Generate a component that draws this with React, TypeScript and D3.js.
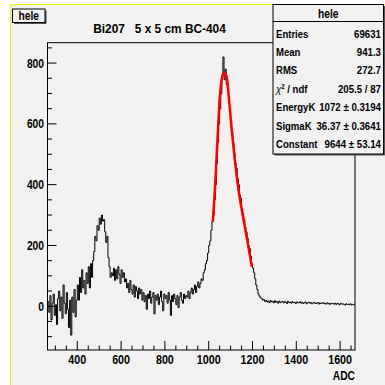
import React from 'react';
import * as d3 from 'd3';

const histName = 'hele';
const title = 'Bi207   5 x 5 cm BC-404';
const xTitle = 'ADC';
const binStart = 265;
const binWidth = 5;
const counts = [
  // 265-400
  15, -20, 35, -45, 10, 40, -30, 5, -60, 25, 50, -15, 30, -40, 70, 10, -25, 45, -10, -70, 20, -95, 30, -20, 55, -35, 20,
  // 400-470
  70, 20, 95, 45, 120, 60, 85, 40, 110, 75, 130, 60, 140, 95,
  // 470-500
  150, 180, 230, 215, 265, 250,
  // 500-530
  290, 270, 300, 280, 285, 245,
  // 530-560
  210, 230, 160, 130, 95, 110,
  // 560-620
  100, 125, 85, 120, 90, 130, 105, 75, 120, 95, 110, 80,
  // 620-700
  90, 60, 75, 45, 85, 55, 40, 70, 30, 65, 50, 25, 60, 40, 55, 20,
  // 700-900
  45, 15, 35, -10, 40, 25, 50, 10, 30, 45, -25, 35, 20, 40, 5, 30, 50, 15, -15, 40,
  25, 35, 10, 45, 20, -30, 35, 15, 40, 25, 5, 35, -5, 30, 45, 20, 10, 40, 25, 35,
  // 900-960
  30, 50, 25, 45, 60, 40, 55, 70, 45, 65, 80, 60,
  // 960-1020
  75, 90, 85, 110, 120, 140, 150, 175, 200, 215, 250, 280,
  // 1020-1070
  300, 350, 400, 470, 540, 600, 650, 700, 760, 820,
  // 1070-1120
  745, 780, 730, 720, 690, 650, 610, 575, 540, 505,
  // 1120-1200
  470, 455, 420, 400, 365, 355, 320, 305, 285, 260, 245, 225, 200, 190, 165, 140,
  // 1200-1270
  125, 110, 90, 70, 55, 40, 33, 28, 25, 20, 22, 16, 19, 14,
  // 1270-1670
  17, 12, 19, 14, 16, 11, 18, 13, 15, 10,
  17, 12, 14, 16, 11, 15, 13, 9, 16, 12,
  14, 10, 15, 12, 13, 9, 14, 11, 12, 15,
  10, 13, 9, 12, 14, 8, 11, 13, 10, 12,
  8, 11, 13, 9, 10, 12, 7, 11, 9, 10,
  12, 8, 10, 7, 11, 9, 6, 10, 8, 9,
  7, 10, 6, 9, 8, 5, 9, 7, 8, 6,
  4, 8, 6, 7, 5, 8, 4, 6, 5, 7,
];
const fitX = [1019, 1029, 1044, 1055, 1067, 1079, 1090, 1105, 1121, 1136, 1151, 1166, 1181, 1197];
const fitY = [278, 393, 602, 722, 766, 761, 701, 580, 470, 383, 317, 257, 196, 130];
const xTicks = [400, 600, 800, 1000, 1200, 1400, 1600];
const yTicks = [0, 200, 400, 600, 800];
const statLabels = ['Entries', 'Mean', 'RMS', 'chi', 'EnergyK', 'SigmaK', 'Constant'];
const statValues = ['69631', '941.3', '272.7', '205.5 / 87', '1072 \u00b1 0.3194', '36.37 \u00b1 0.3641', '9644 \u00b1 53.14'];

const FONT = '"Liberation Sans", Arial, sans-serif';
const SX = 0.82;

type TProps = { x: number; y: number; anchor?: string; size: number; bold?: boolean; sx?: number; children: React.ReactNode };
function Txt({ x, y, anchor = 'start', size, bold = true, sx = SX, children }: TProps) {
  return (
    <text transform={`translate(${x},${y}) scale(${sx},1)`} textAnchor={anchor} fontSize={size}
      fontWeight={bold ? 'bold' : 'normal'} fill="#000" style={{ whiteSpace: 'pre' }}>{children}</text>
  );
}

export default function App() {
  const W = 385, H = 385;
  const L = 47.5, R = 355, T = 42.7, B = 350;
  const x = d3.scaleLinear().domain([264, 1668]).range([L, R]);
  const y = d3.scaleLinear().domain([-144, 867]).range([B, T]);

  const stepPts: [number, number][] = counts.map((c, i) => [binStart + i * binWidth, c]);
  stepPts.push([binStart + counts.length * binWidth, counts[counts.length - 1]]);
  const histPath = d3.line<[number, number]>().x(d => x(d[0])).y(d => y(d[1])).curve(d3.curveStepAfter)(stepPts) || '';

  const fitPts: [number, number][] = fitX.map((v, i) => [v, fitY[i]]);
  const fitPath = d3.line<[number, number]>().x(d => x(d[0])).y(d => y(d[1])).curve(d3.curveCatmullRom)(fitPts) || '';

  const xMinor = d3.range(300, 1668, 50).filter(v => v % 200 !== 0);
  const yMinor = d3.range(-100, 867, 50).filter(v => v % 200 !== 0);

  const bx0 = 273, bx1 = 383.5, by0 = 4.5, by1 = 154;
  const rowY0 = 33.5, rowDy = 18.4;

  return (
    <svg width={W} height={H} style={{ position: 'absolute', left: 0, top: 0 }} fontFamily={FONT}>
      <defs>
        <clipPath id="plotclip"><rect x={L} y={T} width={R - L} height={B - T} /></clipPath>
      </defs>
      <rect x={0} y={0} width={W} height={H} fill="#ffffff" />
      <rect x={10} y={4} width={W - 10} height={H - 4} fill="#f1f1f1" />
      <line x1={10} y1={4.5} x2={W} y2={4.5} stroke="#f5f000" strokeWidth={1} />
      <line x1={10.5} y1={4} x2={10.5} y2={H} stroke="#f5f000" strokeWidth={1} />

      {/* frame */}
      <rect x={L} y={T} width={R - L} height={B - T} fill="#f1f1f1" stroke="#000" strokeWidth={1} />

      {/* ticks */}
      {xTicks.map(t => (
        <line key={'xt' + t} x1={x(t)} x2={x(t)} y1={B} y2={B - 9} stroke="#000" strokeWidth={1} />
      ))}
      {xMinor.map(t => (
        <line key={'xm' + t} x1={x(t)} x2={x(t)} y1={B} y2={B - 4.5} stroke="#000" strokeWidth={1} />
      ))}
      {yTicks.map(t => (
        <line key={'yt' + t} x1={L} x2={L + 9} y1={y(t)} y2={y(t)} stroke="#000" strokeWidth={1} />
      ))}
      {yMinor.map(t => (
        <line key={'ym' + t} x1={L} x2={L + 4.5} y1={y(t)} y2={y(t)} stroke="#000" strokeWidth={1} />
      ))}

      {/* data */}
      <g clipPath="url(#plotclip)">
        <path d={histPath} fill="none" stroke="#000" strokeWidth={1} />
        <path d={fitPath} fill="none" stroke="#ff0000" strokeWidth={2.5} />
      </g>

      {/* tick labels */}
      {xTicks.map(t => (
        <Txt key={'xl' + t} x={x(t)} y={363.5} anchor="middle" size={12.5} sx={0.86}>{String(t)}</Txt>
      ))}
      {yTicks.map(t => (
        <Txt key={'yl' + t} x={44} y={y(t) + 4.5} anchor="end" size={12.5}>{String(t)}</Txt>
      ))}
      <Txt x={R} y={380} anchor="end" size={12.5}>{xTitle}</Txt>

      {/* title */}
      <Txt x={159.5} y={33} anchor="middle" size={13.5} bold={true} sx={0.88}>{title}</Txt>

      {/* hist name box */}
      <rect x={14} y={10.5} width={32.5} height={13.5} fill="#555" />
      <rect x={12.5} y={9} width={32.5} height={13.5} fill="#f1f1f1" stroke="#000" strokeWidth={1} />
      <Txt x={28.75} y={20} anchor="middle" size={12.5}>{histName}</Txt>

      {/* stats box */}
      <rect x={bx0 + 1.5} y={by0 + 1.5} width={bx1 - bx0} height={by1 - by0} fill="#555" />
      <rect x={bx0} y={by0} width={bx1 - bx0} height={by1 - by0} fill="#f1f1f1" stroke="#000" strokeWidth={1} />
      <line x1={bx0} x2={bx1} y1={21.5} y2={21.5} stroke="#000" strokeWidth={1} />
      <Txt x={(bx0 + bx1) / 2} y={18} anchor="middle" size={12.5}>{histName}</Txt>
      {statLabels.map((lab, i) => (
        <Txt key={'sl' + i} x={276} y={rowY0 + i * rowDy + 4} size={11} sx={0.87}>
          {lab === 'chi' ? (<>
            <tspan fontStyle="italic" fontWeight="normal">{'\u03c7'}</tspan>
            <tspan dy={-4} fontSize={7}>2</tspan>
            <tspan dy={4}>{' / ndf'}</tspan>
          </>) : lab}
        </Txt>
      ))}
      {statValues.map((v, i) => (
        <Txt key={'sv' + i} x={381} y={rowY0 + i * rowDy + 4} anchor="end" size={11} sx={0.88}>{v}</Txt>
      ))}
    </svg>
  );
}
